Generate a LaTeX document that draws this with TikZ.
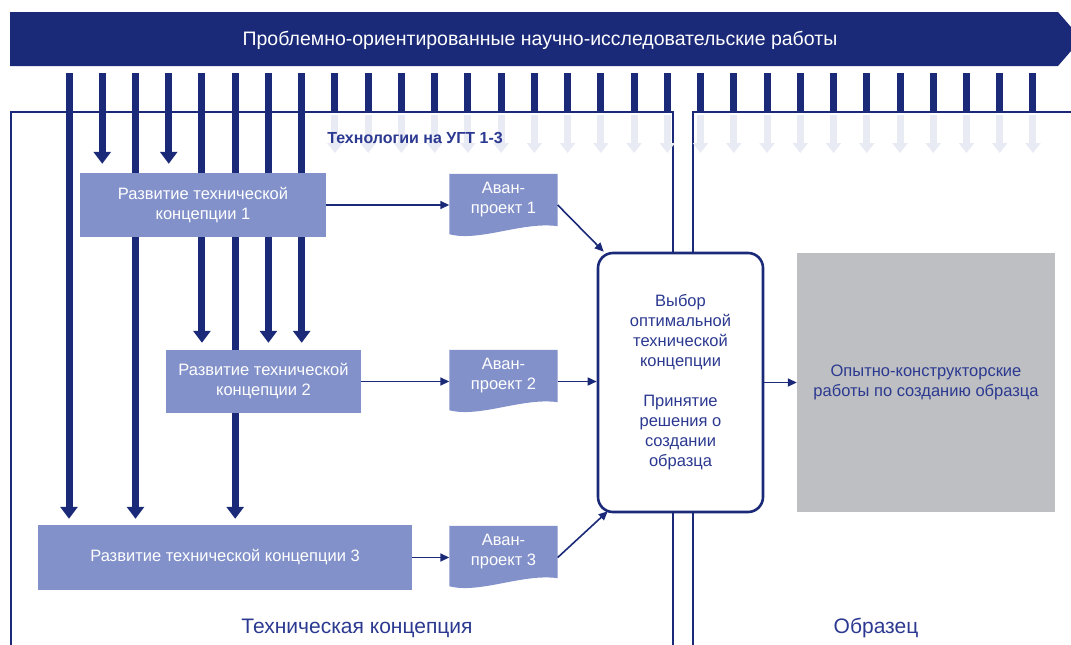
\documentclass[tikz,border=0pt]{standalone}
\usepackage{fontspec}
\setmainfont{Liberation Sans}
\usetikzlibrary{arrows.meta,backgrounds,calc}

\definecolor{navy}{HTML}{1B2A78}
\definecolor{lav}{HTML}{8291CA}
\definecolor{ghost}{HTML}{E8EAF4}
\definecolor{greybox}{HTML}{BEBFC2}
\definecolor{ink}{HTML}{2B3990}

\begin{document}
\begin{tikzpicture}[x=1pt,y=-1pt,
  concept/.style={fill=lav, text=white, align=center, inner sep=0pt,
    font=\fontsize{16.5}{20}\selectfont},
  avan/.style={minimum width=108pt, minimum height=52pt, inner sep=0pt,
    text=white, align=center, font=\fontsize{16.5}{20}\selectfont},
  flow/.style={navy, line width=1.6pt, -{Triangle[length=9pt,width=8pt]}},
  feed/.style={navy, line width=7pt, -{Triangle[length=12pt,width=17pt]}},
  stub/.style={navy, line width=7pt},
  fade/.style={ghost, line width=7pt, -{Triangle[length=10pt,width=15pt]}},
  frame/.style={navy, line width=2.8pt},
  label/.style={text=ink, font=\fontsize{21}{24}\selectfont},
]
\useasboundingbox (0,0) rectangle (1071,645);

% banner across the top
\fill[navy] (10,12) -- (1058,12) -- (1071,27) -- (1071,51) -- (1058,66) -- (10,66) -- cycle;
\node[text=white, font=\fontsize{19.5}{22}\selectfont] (banner) at (540,40)
  {Проблемно-ориентированные научно-исследовательские работы};

% development boxes
\node[concept, minimum width=246pt, minimum height=64pt] (c1) at (203,205)
  {Развитие технической\\концепции 1};
\node[concept, minimum width=195pt, minimum height=63pt] (c2) at (263.5,381.5)
  {Развитие технической\\концепции 2};
\node[concept, minimum width=374pt, minimum height=65pt] (c3) at (225,557.5)
  {Развитие технической концепции 3};

% preliminary designs
\node[avan] (a1) at (503.5,200) {Аван-\\проект 1};
\node[avan] (a2) at (503.5,376) {Аван-\\проект 2};
\node[avan] (a3) at (503.5,552) {Аван-\\проект 3};

% decision and prototype work
\node[draw=navy, line width=2.6pt, fill=white, rounded corners=15pt,
  minimum width=165pt, minimum height=259pt, text=ink, align=center,
  font=\fontsize{16.5}{20}\selectfont] (d) at (680.5,382.5)
  {Выбор\\оптимальной\\технической\\концепции\\[20pt]Принятие\\решения о\\создании\\образца};
\node[fill=greybox, minimum width=258pt, minimum height=259pt, text=ink,
  align=center, font=\fontsize{16.5}{20}\selectfont] (g) at (926,382.5)
  {Опытно-конструкторские\\работы по созданию образца};

% captions
\node[text=ink, font=\bfseries\fontsize{16}{18}\selectfont] (tech) at (415,138)
  {Технологии на УГТ 1-3};
\node[label] (conc) at (357,628) {Техническая концепция};
\node[label] (obr) at (876,628) {Образец};

\begin{scope}[on background layer]
  % section frames
  \coordinate (ftop) at (0,112);
  \draw[frame] (11,660) -- (11 ,112) -- (673,112) -- (673,660);
  \draw[frame] (693,660) -- (693,112) -- (1090,112);

  % research streams leaving the banner
  \foreach \i in {0,...,29} \coordinate (t\i) at ({69+33.24*\i},73);
  \draw[feed] (t0) -- ($(t0 |- c3.north)+(0,-6)$);
  \draw[feed] (t1) -- ($(t1 |- c1.north)+(0,-9)$);
  \draw[feed] (t2) -- ($(t2 |- c3.north)+(0,-6)$);
  \draw[feed] (t3) -- ($(t3 |- c1.north)+(0,-9)$);
  \draw[feed] (t4) -- ($(t4 |- c2.north)+(0,-7)$);
  \draw[feed] (t5) -- ($(t5 |- c3.north)+(0,-6)$);
  \draw[feed] (t6) -- ($(t6 |- c2.north)+(0,-7)$);
  \draw[feed] (t7) -- ($(t7 |- c2.north)+(0,-7)$);
  \foreach \i in {8,...,29} {
    \draw[stub] (t\i) -- (t\i |- ftop);
    \draw[fade] ($(t\i |- ftop)+(0,3)$) -- +(0,38);
  }

  % document outlines of the preliminary designs
  \foreach \n in {a1,a2,a3}
    \fill[lav] (\n.north west) -- (\n.north east) -- (\n.south east)
      .. controls +(-35,-5) and +(30,8) .. ($(\n.south west)+(0,8)$) -- cycle;
\end{scope}

% connectors between stages
\draw[flow] (c1.east) -- (c1.east -| a1.west);
\draw[flow] (c2.east) -- (c2.east -| a2.west);
\draw[flow] (c3.east) -- (c3.east -| a3.west);
\draw[flow] (c1.east -| a1.east) -- ($(d.north west)+(7,0)$);
\draw[flow] (c2.east -| a2.east) -- (c2.east -| d.west);
\draw[flow] (c3.east -| a3.east) -- ($(d.south west)+(11,-2)$);
\draw[flow] (d.east) -- (g.west);
\end{tikzpicture}
\end{document}
